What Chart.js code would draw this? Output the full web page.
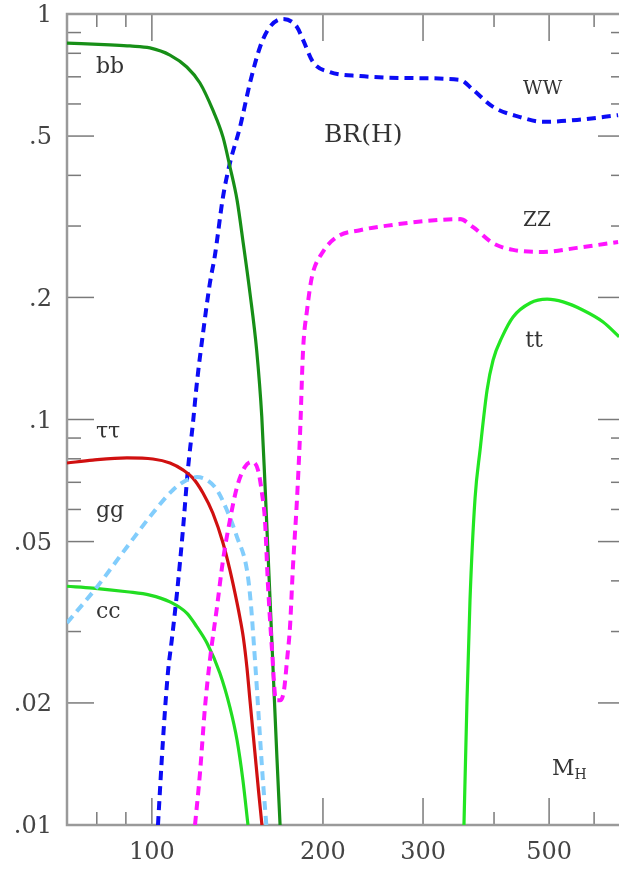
<!DOCTYPE html>
<html>
<head>
<meta charset="utf-8">
<script src="https://cdn.jsdelivr.net/npm/chart.js@4.4.1/dist/chart.umd.min.js"></script>
<style>
  html, body { margin: 0; padding: 0; background: #fff; overflow: hidden; }
  #wrap { width: 640px; height: 870px; }
</style>
</head>
<body>
<div id="wrap"><canvas id="brChart" width="640" height="870"></canvas></div>
<script>
// axis ticks
const x_major = [100, 200, 300, 500]
const x_minor = [80, 90, 400, 600]
const y_major = [1, 0.5, 0.2, 0.1, 0.05, 0.02, 0.01]
const y_labels = ["1", ".5", ".2", ".1", ".05", ".02", ".01"]
const y_minor = [0.9, 0.8, 0.7, 0.6, 0.4, 0.3, 0.09, 0.08, 0.07, 0.06, 0.04, 0.03]

// branching ratios vs Higgs mass (GeV)
const bb_mass = [70.9, 84.4, 91.5, 99.2, 107.6, 115.2, 121.5, 128.0, 133.4, 137.2, 141.2, 144.8, 148.8, 152.9, 156.1, 158.1, 160.0, 162.0, 164.0, 166.0, 168.1]
const bb_br = [0.848, 0.839, 0.834, 0.825, 0.792, 0.740, 0.676, 0.580, 0.497, 0.420, 0.348, 0.272, 0.205, 0.148, 0.1015, 0.0697, 0.0477, 0.0320, 0.0215, 0.0146, 0.0100]

const ww_mass = [102.5, 104.6, 106.7, 108.4, 110.7, 113.4, 115.7, 118.1, 120.0, 123.0, 126.5, 129.1, 133.4, 137.2, 142.9, 148.8, 155.0, 161.3, 170.1, 180.0, 184.5, 192.1, 205.8, 232.4, 284.6, 348.5, 367.5, 398.5, 444.6, 488.1, 560, 661.3]
const ww_br = [0.0100, 0.0162, 0.0237, 0.0286, 0.0373, 0.0534, 0.0751, 0.098, 0.123, 0.163, 0.217, 0.254, 0.354, 0.429, 0.526, 0.676, 0.829, 0.929, 0.972, 0.929, 0.863, 0.761, 0.719, 0.703, 0.695, 0.688, 0.650, 0.590, 0.557, 0.542, 0.548, 0.563]

const zz_mass = [119.1, 121.5, 124.0, 126.5, 130.2, 133.4, 137.2, 141.2, 145.8, 150.0, 153.7, 156.2, 158.1, 160.0, 162.7, 165.3, 168.1, 170.8, 172.9, 175.0, 177.1, 180.0, 182.3, 184.5, 187.5, 191.3, 199.2, 211.7, 232.4, 265.7, 305.0, 348.5, 367.5, 398.5, 432.1, 488.1, 560, 661.3]
const zz_br = [0.0100, 0.0134, 0.0195, 0.0255, 0.0345, 0.0450, 0.0565, 0.0682, 0.0764, 0.0786, 0.0751, 0.0659, 0.0565, 0.0395, 0.0270, 0.0203, 0.0203, 0.0215, 0.0255, 0.0308, 0.0433, 0.0633, 0.0926, 0.148, 0.186, 0.225, 0.257, 0.282, 0.293, 0.302, 0.309, 0.312, 0.298, 0.272, 0.262, 0.259, 0.265, 0.274]

const tt_mass = [354.0, 358.5, 362.9, 370.4, 378, 388.9, 398.5, 413.3, 432.1, 463.1, 496.0, 529.2, 574, 622.3, 664]
const tt_br = [0.0098, 0.0203, 0.0359, 0.064, 0.0841, 0.1182, 0.1402, 0.1598, 0.179, 0.1938, 0.198, 0.195, 0.186, 0.174, 0.160]

const tau_mass = [70.9, 78.7, 90.4, 100.4, 107.6, 113.4, 118.1, 123.0, 128.0, 133.4, 137.2, 141.2, 142.9, 144.9, 147.0, 148.8, 151.8, 154.0, 156.2]
const tau_br = [0.0781, 0.0794, 0.0804, 0.0799, 0.0781, 0.0751, 0.0717, 0.0659, 0.0588, 0.0496, 0.0425, 0.0353, 0.0324, 0.0289, 0.0244, 0.0203, 0.0151, 0.0122, 0.0100]

const gg_mass = [70.9, 80.0, 90.4, 100.4, 108.9, 115.2, 120.0, 125.0, 130.2, 135.5, 141.2, 147.0, 149.4, 151.2, 153.1, 155.0, 156.8, 159.0]
const gg_br = [0.0315, 0.0386, 0.0485, 0.0588, 0.067, 0.0709, 0.0721, 0.0709, 0.067, 0.0598, 0.0513, 0.0425, 0.0349, 0.0278, 0.0215, 0.0164, 0.0129, 0.0100]

const cc_mass = [70.9, 78.7, 90.4, 99.2, 107.6, 115.2, 120.0, 125.0, 131.7, 137.2, 141.2, 144.6, 147.6]
const cc_br = [0.0388, 0.0384, 0.0376, 0.0369, 0.0355, 0.0333, 0.0308, 0.0281, 0.0237, 0.0195, 0.0162, 0.0129, 0.0100]

// text in the plot, placed in data coordinates
const notes = [
  { text: "bb", x: 79.7, y: 0.715, size: 22 },
  { text: "WW", x: 450, y: 0.635, size: 19 },
  { text: "BR(H)", x: 200.8, y: 0.483, size: 25 },
  { text: "ZZ", x: 450, y: 0.300, size: 20 },
  { text: "tt", x: 453.7, y: 0.151, size: 22 },
  { text: "ττ", x: 79.7, y: 0.090, size: 22 },
  { text: "gg", x: 79.7, y: 0.0575, size: 22 },
  { text: "cc", x: 79.7, y: 0.0324, size: 22 }
]

const serif = "'DejaVu Serif', 'Liberation Serif', serif"

function to_points(mass, br)
{
  return mass.map((m, i) => ({ x: m, y: br[i] }))
}

function line_set(label, mass, br, color, dashed)
{
  return {
    label: label,
    data: to_points(mass, br),
    borderColor: color,
    borderWidth: dashed ? 4 : 3.2,
    borderDash: dashed ? [9, 6] : [],
    cubicInterpolationMode: "monotone",
    fill: false
  }
}

const frame_plugin =
{
  id: "frame",
  beforeDatasetsDraw(chart)
  {
    const ctx = chart.ctx
    const a = chart.chartArea
    const xs = chart.scales.x
    const ys = chart.scales.y
    ctx.save()
    ctx.strokeStyle = "#7a7a7a"
    ctx.lineWidth = 1.5
    const tick = (x1, y1, x2, y2) =>
    {
      ctx.beginPath()
      ctx.moveTo(x1, y1)
      ctx.lineTo(x2, y2)
      ctx.stroke()
    }
    x_major.forEach(v =>
    {
      const p = xs.getPixelForValue(v)
      tick(p, a.bottom, p, a.bottom - 27)
      tick(p, a.top, p, a.top + 27)
    })
    x_minor.forEach(v =>
    {
      const p = xs.getPixelForValue(v)
      tick(p, a.bottom, p, a.bottom - 13)
      tick(p, a.top, p, a.top + 13)
    })
    y_major.forEach(v =>
    {
      const p = ys.getPixelForValue(v)
      tick(a.left, p, a.left + 27, p)
      tick(a.right, p, a.right - 27, p)
    })
    y_minor.forEach(v =>
    {
      const p = ys.getPixelForValue(v)
      tick(a.left, p, a.left + 14, p)
      tick(a.right, p, a.right - 14, p)
    })
    ctx.strokeStyle = "#9a9a9a"
    ctx.lineWidth = 2.5
    ctx.strokeRect(a.left, a.top, a.right - a.left, a.bottom - a.top)
    ctx.restore()
  },
  afterDraw(chart)
  {
    const ctx = chart.ctx
    const xs = chart.scales.x
    const ys = chart.scales.y
    ctx.save()
    ctx.fillStyle = "#333"
    ctx.textAlign = "left"
    ctx.textBaseline = "alphabetic"
    notes.forEach(n =>
    {
      ctx.font = n.size + "px " + serif
      ctx.fillText(n.text, xs.getPixelForValue(n.x), ys.getPixelForValue(n.y))
    })
    // M with subscript H
    const mx = xs.getPixelForValue(506)
    const my = ys.getPixelForValue(0.0133)
    ctx.font = "22px " + serif
    ctx.fillText("M", mx, my)
    const mw = ctx.measureText("M").width
    ctx.font = "14px " + serif
    ctx.fillText("H", mx + mw, my + 4)
    ctx.restore()
  }
}

const chart_context = document.getElementById("brChart").getContext("2d")

const br_chart = new Chart(chart_context,
{
  type: "line",
  data:
  {
    datasets:
    [
      line_set("ZZ", zz_mass, zz_br, "#ff14ff", true),
      line_set("gg", gg_mass, gg_br, "#82cdfc", true),
      line_set("cc", cc_mass, cc_br, "#22dd22", false),
      line_set("tt", tt_mass, tt_br, "#22e622", false),
      line_set("tau tau", tau_mass, tau_br, "#d01010", false),
      line_set("bb", bb_mass, bb_br, "#178f17", false),
      line_set("WW", ww_mass, ww_br, "#0c0cf5", true)
    ]
  },
  options:
  {
    responsive: false,
    animation: false,
    layout: { padding: { top: 14, right: 15, left: 0, bottom: 0 } },
    plugins:
    {
      legend: { display: false },
      tooltip: { enabled: false }
    },
    elements:
    {
      point: { radius: 0 }
    },
    scales:
    {
      x:
      {
        type: "logarithmic",
        min: 70.9,
        max: 680,
        border: { display: false },
        grid: { display: false, drawTicks: false },
        afterBuildTicks: s => { s.ticks = x_major.map(v => ({ value: v })) },
        afterFit: s => { s.height = 45; s.paddingLeft = 0; s.paddingRight = 0 },
        ticks:
        {
          autoSkip: false,
          maxRotation: 0,
          padding: 13,
          color: "#444",
          font: { family: serif, size: 24 },
          callback: v => String(v)
        }
      },
      y:
      {
        type: "logarithmic",
        min: 0.01,
        max: 1,
        border: { display: false },
        grid: { display: false, drawTicks: false },
        afterBuildTicks: s => { s.ticks = y_major.map(v => ({ value: v })) },
        afterFit: s => { s.width = 67; s.paddingTop = 0; s.paddingBottom = 0 },
        ticks:
        {
          autoSkip: false,
          padding: 15,
          labelOffset: 2,
          color: "#444",
          font: { family: serif, size: 24 },
          callback: v => y_labels[y_major.indexOf(v)]
        }
      }
    }
  },
  plugins: [frame_plugin]
})
</script>
</body>
</html>
